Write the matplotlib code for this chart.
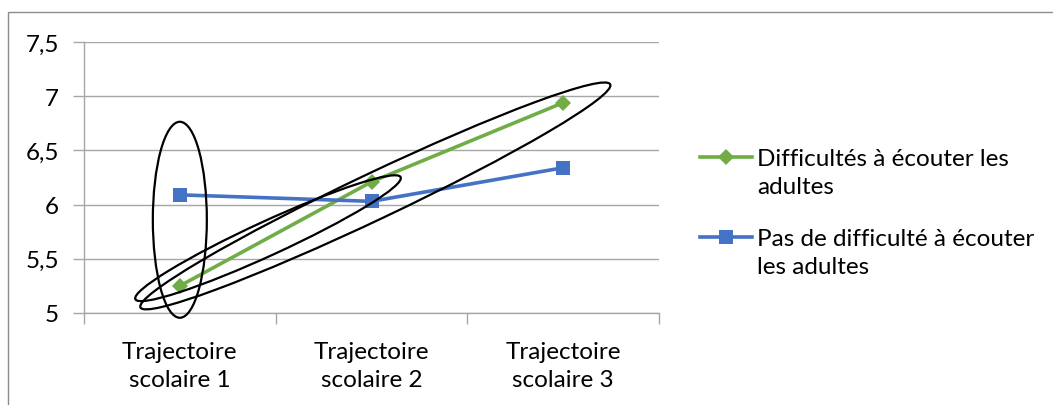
import matplotlib
matplotlib.use("Agg")
import matplotlib.pyplot as plt
from matplotlib.patches import Ellipse, Rectangle
from matplotlib.lines import Line2D
from matplotlib import transforms

categories = ["Trajectoire\nscolaire 1", "Trajectoire\nscolaire 2", "Trajectoire\nscolaire 3"]
difficulte = [5.25, 6.21, 6.94]
pas_difficulte = [6.09, 6.03, 6.34]
series_labels = ["Difficultés à écouter les\nadultes", "Pas de difficulté à écouter\nles adultes"]
yticks = [5, 5.5, 6, 6.5, 7, 7.5]
ytick_labels = ["5", "5,5", "6", "6,5", "7", "7,5"]

GREEN = "#70AD47"
BLUE = "#4472C4"
GRID = "#A6A6A6"
FONT = ["Lato", "DejaVu Sans"]
FS = 17.5

plt.rcParams['font.family'] = FONT

W, H = 1053, 406
fig = plt.figure(figsize=(W / 100, H / 100), dpi=100)
fig.patch.set_facecolor("white")

# outer chart border (partly cut off)
fig.add_artist(Rectangle((8 / W, -0.1), 1.2, (H - 13) / H + 0.1, transform=fig.transFigure,
                         fill=False, edgecolor="#8C8C8C", linewidth=1.0))

ax = fig.add_axes([84 / W, 92 / H, 575 / W, 271 / H])
x = list(range(len(categories)))

ax.set_xlim(-0.5, len(categories) - 0.5)
ax.set_ylim(yticks[0], yticks[-1])
ax.set_yticks(yticks)
ax.set_yticklabels(ytick_labels, fontsize=FS)
ax.yaxis.grid(True, color=GRID, linewidth=1.0)
ax.set_axisbelow(True)
ax.tick_params(axis="y", length=8, color=GRID, width=1.0, pad=10)

ax.set_xticks([i - 0.5 for i in range(len(categories) + 1)])
ax.set_xticklabels([])
ax.tick_params(axis="x", which="major", length=8, color=GRID, width=1.0)
ax.set_xticks(x, minor=True)
ax.set_xticklabels(categories, minor=True, fontsize=FS, linespacing=1.45)
ax.tick_params(axis="x", which="minor", length=0, pad=20)

for s in ["top", "right"]:
    ax.spines[s].set_visible(False)
for s in ["left", "bottom"]:
    ax.spines[s].set_color(GRID)
    ax.spines[s].set_linewidth(1.0)

ax.plot(x, difficulte, color=GREEN, linewidth=2.6, marker="D", markersize=8.5,
        markeredgewidth=0, zorder=3, clip_on=False)
ax.plot(x, pas_difficulte, color=BLUE, linewidth=2.6, marker="s", markersize=10,
        markeredgewidth=0, zorder=3, clip_on=False)

# hand-drawn annotation ellipses (sizes in inches, anchored at data points)
def ell(xc, yc, w, h, ang):
    tr = fig.dpi_scale_trans + transforms.ScaledTranslation(xc, yc, ax.transData)
    e = Ellipse((0, 0), w, h, angle=ang, transform=tr, fill=False,
                edgecolor="black", linewidth=1.6, zorder=4, clip_on=False)
    fig.add_artist(e)

ell(0.0, 5.86, 0.54, 1.96, 0)
ell(0.46, 5.69, 2.92, 0.34, 24.7)
ell(1.02, 6.08, 5.20, 0.46, 25.4)

# legend (manual, Excel style)
leg_items = [(GREEN, "D", 8.5), (BLUE, "s", 10)]
leg_y = [158, 238]
for (c, m, ms), lab, yy in zip(leg_items, series_labels, leg_y):
    fy = (H - yy) / H
    fig.add_artist(Line2D([700 / W, 752 / W], [fy, fy], transform=fig.transFigure,
                          color=c, linewidth=2.6))
    fig.add_artist(Line2D([726 / W], [fy], transform=fig.transFigure, color=c,
                          marker=m, markersize=ms, markeredgewidth=0))
    fig.text(757 / W, (H - yy + 9) / H, lab, fontsize=FS, va="top", ha="left",
             linespacing=1.4, transform=fig.transFigure)

fig.savefig("out.png", dpi=100, facecolor="white")
